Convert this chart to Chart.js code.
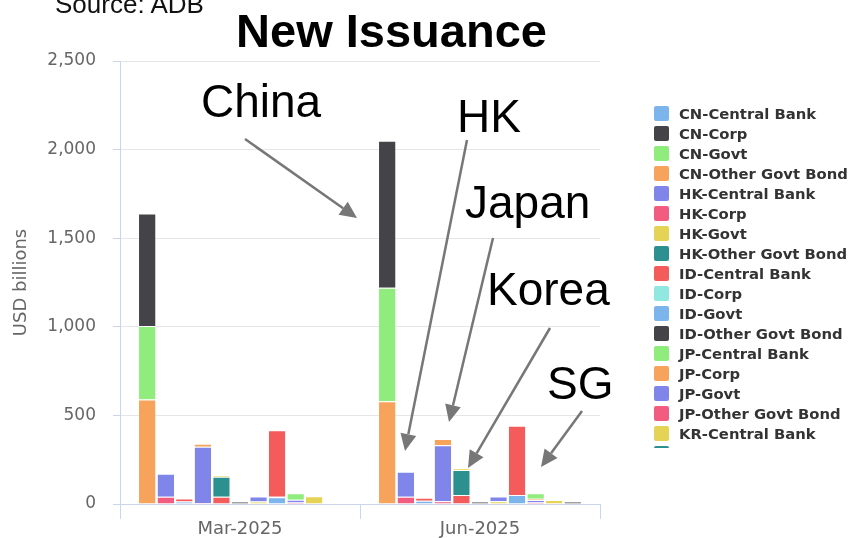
<!DOCTYPE html>
<html>
<head>
<meta charset="utf-8">
<script src="https://cdn.jsdelivr.net/npm/chart.js@4.4.1/dist/chart.umd.min.js"></script>
<style>
  body { margin: 0; background: #fff; }
  #wrap { position: relative; width: 849px; height: 538px; overflow: hidden; }
  #c { position: absolute; left: 0; top: 0; }
  #overlay { position: absolute; left: 0; top: 0; }
  #legend {
    position: absolute; left: 648px; top: 103px; width: 201px; height: 345px;
    overflow: hidden; font-family: "DejaVu Sans", sans-serif; font-weight: bold;
    font-size: 14.8px; color: #333;
  }
  .row { height: 20px; display: flex; align-items: center; white-space: nowrap; }
  .sw { width: 15px; height: 15px; border-radius: 2px; margin-left: 6px; margin-right: 10px; flex: none; }
</style>
</head>
<body>
<div id="wrap">
  <canvas id="c" width="849" height="538"></canvas>
  <div id="legend"></div>
  <svg id="overlay" width="849" height="538"></svg>
</div>
<script>
// dati (USD billions), un valore per paese
const categorie = ["Mar-2025", "Jun-2025"];
const paesi = ["CN", "HK", "ID", "JP", "KR", "MY", "PH", "SG", "TH", "VN", "KH"];
const tipi = ["Central Bank", "Corp", "Govt", "Other Govt Bond"];

const centralBankMar = [0, 130, 17, 0, 8, 0, 29, 375, 37, 44, 0];
const corpMar        = [635, 41, 0, 17, 113, 13, 0, 3, 0, 0, 0];
const govtMar        = [415, 0, 14, 318, 41, 0, 14, 38, 16, 0, 0];
const otherMar       = [590, 0, 0, 5, 0, 0, 0, 0, 8, 0, 0];

const centralBankJun = [0, 141, 17, 0, 9, 0, 27, 391, 31, 22, 0];
const corpJun        = [830, 41, 0, 36, 141, 13, 0, 0, 8, 0, 13];
const govtJun        = [640, 0, 18, 316, 51, 0, 16, 51, 14, 0, 0];
const otherJun       = [580, 0, 0, 15, 0, 0, 0, 0, 8, 0, 0];

const yTicks = [0, 500, 1000, 1500, 2000, 2500];

const colori = ["#7cb5ec", "#434348", "#90ed7d", "#f7a35c", "#8085e9",
                "#f15c80", "#e4d354", "#2b908f", "#f45b5b", "#91e8e1"];

const valoriMar = [centralBankMar, corpMar, govtMar, otherMar];
const valoriJun = [centralBankJun, corpJun, govtJun, otherJun];

// serie nello stesso ordine della legenda
let serie = [];
paesi.forEach((p, pi) => {
  tipi.forEach((t, ti) => {
    serie.push({
      nome: p + "-" + t,
      colore: colori[(pi * 4 + ti) % colori.length],
      paese: p,
      dati: [valoriMar[ti][pi], valoriJun[ti][pi]].map(v => v === 0 ? null : v)
    });
  });
});

// per lo stack: "Other Govt Bond" in basso, "Central Bank" in alto
let datasets = [];
paesi.forEach((p) => {
  const sue = serie.filter(s => s.paese === p).reverse();
  sue.forEach((s) => {
    datasets.push({
      label: s.nome,
      data: s.dati,
      stack: p,
      backgroundColor: s.colore,
      borderColor: "#ffffff",
      borderWidth: { top: 1, left: 0, right: 0, bottom: 0 },
      categoryPercentage: 0.85,
      barPercentage: 0.89
    });
  });
});

new Chart(document.getElementById("c"), {
  type: "bar",
  data: { labels: categorie, datasets: datasets },
  options: {
    responsive: false,
    animation: false,
    devicePixelRatio: 1,
    layout: { padding: { top: 61, right: 249, bottom: 0, left: 0 } },
    plugins: { legend: { display: false }, tooltip: { enabled: false } },
    scales: {
      x: {
        stacked: true,
        afterFit: (s) => { s.height = 34; },
        grid: { drawOnChartArea: false, tickLength: 15, tickColor: "#ccd6eb" },
        border: { color: "#ccd6eb" },
        ticks: { color: "#666", padding: 0, font: { family: "DejaVu Sans", size: 18 } }
      },
      y: {
        stacked: true,
        min: 0,
        max: 2500,
        afterFit: (s) => { s.width = 120; },
        afterBuildTicks: (s) => { s.ticks = yTicks.map(v => ({ value: v })); },
        grid: { color: "#e6e6e6", tickColor: "#ccd6eb", tickLength: 7 },
        border: { color: "#ccd6eb" },
        ticks: {
          color: "#666",
          padding: 17,
          font: { family: "DejaVu Sans", size: 17 },
          callback: (v) => v.toLocaleString("en-US")
        },
        title: {
          display: true,
          text: "USD billions",
          color: "#666",
          padding: { top: 11, bottom: 0 },
          font: { family: "DejaVu Sans", size: 18 }
        }
      }
    }
  }
});

// legenda
const legenda = document.getElementById("legend");
serie.forEach((s) => {
  legenda.innerHTML += `<div class="row"><span class="sw" style="background:${s.colore}"></span>${s.nome}</div>`;
});

// titolo, fonte e annotazioni
const svg = document.getElementById("overlay");
let html = "";
html += `<text x="55" y="13" font-family="Liberation Sans" font-size="26" fill="#111">Source: ADB</text>`;
html += `<text x="391.5" y="47" text-anchor="middle" font-family="Liberation Sans" font-weight="bold" font-size="47" fill="#000">New Issuance</text>`;

const note = [
  { testo: "China", x: 201, y: 117, da: [245, 139], a: [357, 218] },
  { testo: "HK", x: 457, y: 132, da: [467, 140], a: [405, 451] },
  { testo: "Japan", x: 465, y: 218, da: [493, 238], a: [449, 422] },
  { testo: "Korea", x: 487, y: 305, da: [550, 328], a: [468, 468] },
  { testo: "SG", x: 547, y: 399, da: [582, 411], a: [541, 467] }
];
note.forEach((n) => {
  html += `<text x="${n.x}" y="${n.y}" font-family="Liberation Sans" font-size="46" fill="#000">${n.testo}</text>`;
  const dx = n.a[0] - n.da[0], dy = n.a[1] - n.da[1];
  const len = Math.sqrt(dx * dx + dy * dy);
  const ux = dx / len, uy = dy / len;
  const bx = n.a[0] - ux * 17, by = n.a[1] - uy * 17;
  html += `<line x1="${n.da[0]}" y1="${n.da[1]}" x2="${bx}" y2="${by}" stroke="#777" stroke-width="2.5"/>`;
  html += `<polygon points="${n.a[0]},${n.a[1]} ${bx - uy * 8},${by + ux * 8} ${bx + uy * 8},${by - ux * 8}" fill="#777"/>`;
});
svg.innerHTML = html;
</script>
</body>
</html>
